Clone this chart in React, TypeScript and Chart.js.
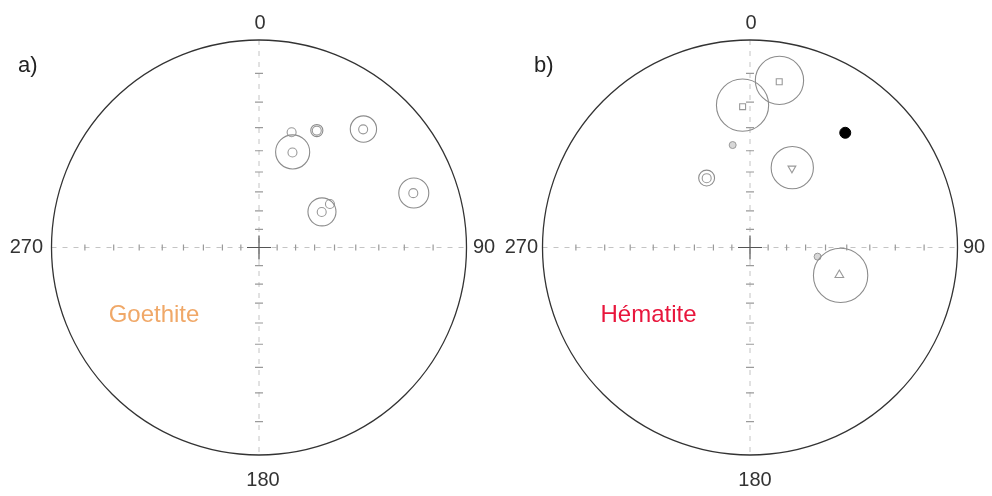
import React, { useEffect, useRef } from 'react';
import { Chart, registerables } from 'chart.js';

Chart.register(...registerables);

// ---- Data (declination, inclination in degrees, alpha95 cone in degrees) ----
const goethiteDec = [19.4, 41.4, 70.6, 60.5, 26.3, 15.8, 58.5];
const goethiteInc = [38.2, 15.6, 13.5, 51.7, 25.7, 30.0, 46.3];
const goethiteA95 = [7.6, 4.6, 5.1, 6.9, 2.4, 0, 0];
const goethiteSym = ['circle', 'circle', 'circle', 'circle', 'circle', 'circle', 'circle'];

const hematiteDec = [10.0, 357.0, 39.7, 350.4, 328.0, 27.9, 107.1, 97.7];
const hematiteInc = [11.9, 21.6, 18.6, 36.8, 47.0, 43.3, 41.5, 53.6];
const hematiteA95 = [8.0, 9.8, 0, 0, 3.8, 9.8, 12.4, 0];
const hematiteSym = ['rect', 'rect', 'filled', 'small', 'circle', 'triangleDown', 'triangle', 'small'];

// colatitude tick marks along the axes (degrees from centre)
const axisTicks = [10, 20, 30, 40, 50, 60, 70, 80];
const compassLabels = ['0', '90', '180', '270'];
const panelLetters = ['a)', 'b)'];
const mineralNames = ['Goethite', 'Hématite'];

const D2R = Math.PI / 180;
const stereo = (colat: number) => Math.tan((colat / 2) * D2R);

function project(dec: number, inc: number) {
  const rho = stereo(90 - Math.abs(inc));
  return { x: rho * Math.sin(dec * D2R), y: rho * Math.cos(dec * D2R) };
}

function coneOf(dec: number, inc: number, a95: number) {
  const th = 90 - Math.abs(inc);
  const r1 = stereo(th - a95);
  const r2 = stereo(th + a95);
  const rc = (r1 + r2) / 2;
  return { x: rc * Math.sin(dec * D2R), y: rc * Math.cos(dec * D2R), rr: (r2 - r1) / 2 };
}

const pxPerUnit = (chart: any) => {
  const s = chart.scales.x;
  return s.getPixelForValue(1) - s.getPixelForValue(0);
};

const stereoPlugin = {
  id: 'stereonet',
  beforeDatasetsDraw(chart: any, _args: any, opts: any) {
    const { ctx } = chart;
    const sx = chart.scales.x;
    const sy = chart.scales.y;
    const cx = sx.getPixelForValue(0);
    const cy = sy.getPixelForValue(0);
    const R = pxPerUnit(chart);
    ctx.save();
    // dashed axes
    ctx.strokeStyle = '#c4c4c4';
    ctx.lineWidth = 1;
    ctx.setLineDash([5, 6]);
    ctx.beginPath();
    ctx.moveTo(cx - R, cy);
    ctx.lineTo(cx + R, cy);
    ctx.moveTo(cx, cy - R);
    ctx.lineTo(cx, cy + R);
    ctx.stroke();
    ctx.setLineDash([]);
    // ticks
    ctx.strokeStyle = '#9a9a9a';
    ctx.lineWidth = 1.2;
    ctx.beginPath();
    axisTicks.forEach((t) => {
      const d = stereo(t);
      [-1, 1].forEach((sgn) => {
        const px = sx.getPixelForValue(sgn * d);
        ctx.moveTo(px, cy - 3);
        ctx.lineTo(px, cy + 3);
        const py = sy.getPixelForValue(sgn * d);
        ctx.moveTo(cx - 4, py);
        ctx.lineTo(cx + 4, py);
      });
    });
    ctx.stroke();
    // centre cross
    ctx.strokeStyle = '#555';
    ctx.lineWidth = 1.2;
    ctx.beginPath();
    ctx.moveTo(cx - 12, cy);
    ctx.lineTo(cx + 12, cy);
    ctx.moveTo(cx, cy - 12);
    ctx.lineTo(cx, cy + 12);
    ctx.stroke();
    // primitive circle
    ctx.strokeStyle = '#333';
    ctx.lineWidth = 1.3;
    ctx.beginPath();
    ctx.arc(cx, cy, R, 0, Math.PI * 2);
    ctx.stroke();
    ctx.restore();
  },
  afterDatasetsDraw(chart: any, _args: any, opts: any) {
    const { ctx } = chart;
    const sx = chart.scales.x;
    const sy = chart.scales.y;
    const cx = sx.getPixelForValue(0);
    const cy = sy.getPixelForValue(0);
    const R = pxPerUnit(chart);
    ctx.save();
    ctx.fillStyle = '#333';
    ctx.font = '20px "Liberation Sans", Arial, sans-serif';
    ctx.textBaseline = 'middle';
    ctx.textAlign = 'center';
    ctx.fillText(compassLabels[0], cx + 1, cy - R - 17);
    ctx.fillText(compassLabels[2], cx + opts.bottomDx, cy + R + 25);
    ctx.textAlign = 'left';
    ctx.fillText(compassLabels[1], cx + R + opts.rightGap, cy);
    ctx.textAlign = 'right';
    ctx.fillText(compassLabels[3], cx - R - opts.leftGap, cy);
    ctx.textAlign = 'left';
    ctx.font = '22px "Liberation Sans", Arial, sans-serif';
    ctx.fillStyle = '#222';
    ctx.fillText(opts.letter, opts.letterX, 66);
    ctx.textAlign = 'center';
    ctx.font = '24px "Liberation Sans", Arial, sans-serif';
    ctx.fillStyle = opts.nameColor;
    ctx.fillText(opts.name, opts.nameX, 315);
    ctx.restore();
  },
};

function buildDatasets(dec: number[], inc: number[], a95: number[], sym: string[], coneColor: string) {
  const cones: any[] = [];
  dec.forEach((d, i) => {
    if (a95[i] > 0) cones.push(coneOf(d, inc[i], a95[i]));
  });
  const pick = (kind: string) =>
    dec.map((d, i) => (sym[i] === kind ? project(d, inc[i]) : null)).filter(Boolean);
  const base = { type: 'scatter', clip: false, pointHoverRadius: undefined };
  return [
    {
      ...base,
      label: 'cones',
      data: cones,
      pointStyle: 'circle',
      backgroundColor: 'rgba(0,0,0,0)',
      borderColor: coneColor,
      borderWidth: 1.1,
      pointRadius: (c: any) => (c.raw ? c.raw.rr * pxPerUnit(c.chart) : 0),
    },
    { ...base, label: 'circle', data: pick('circle'), pointStyle: 'circle', pointRadius: 4.5, backgroundColor: 'rgba(0,0,0,0)', borderColor: '#999', borderWidth: 1.1 },
    { ...base, label: 'small', data: pick('small'), pointStyle: 'circle', pointRadius: 3.5, backgroundColor: '#d8d8d8', borderColor: '#999', borderWidth: 1 },
    { ...base, label: 'rect', data: pick('rect'), pointStyle: 'rect', pointRadius: 4.2, backgroundColor: 'rgba(0,0,0,0)', borderColor: '#999', borderWidth: 1.1 },
    { ...base, label: 'triangle', data: pick('triangle'), pointStyle: 'triangle', pointRadius: 5, backgroundColor: 'rgba(0,0,0,0)', borderColor: '#999', borderWidth: 1.1 },
    { ...base, label: 'triangleDown', data: pick('triangleDown'), pointStyle: 'triangle', rotation: 180, pointRadius: 4.5, backgroundColor: 'rgba(0,0,0,0)', borderColor: '#999', borderWidth: 1.1 },
    { ...base, label: 'filled', data: pick('filled'), pointStyle: 'circle', pointRadius: 5.5, backgroundColor: '#000', borderColor: '#000', borderWidth: 1 },
  ];
}

function makeConfig(datasets: any[], padding: any, net: any) {
  return {
    type: 'scatter',
    data: { datasets },
    options: {
      responsive: false,
      animation: false,
      devicePixelRatio: 1,
      events: [],
      layout: { padding },
      scales: {
        x: { type: 'linear', min: -1, max: 1, display: false },
        y: { type: 'linear', min: -1, max: 1, display: false },
      },
      plugins: {
        legend: { display: false },
        tooltip: { enabled: false },
        stereonet: net,
      },
    },
    plugins: [stereoPlugin],
  } as any;
}

export default function App() {
  const leftRef = useRef<HTMLCanvasElement>(null);
  const rightRef = useRef<HTMLCanvasElement>(null);

  useEffect(() => {
    const left = new Chart(
      leftRef.current as HTMLCanvasElement,
      makeConfig(
        buildDatasets(goethiteDec, goethiteInc, goethiteA95, goethiteSym, '#8c8c8c'),
        { left: 51.5, right: 29.5, top: 40, bottom: 41 },
        { letter: panelLetters[0], letterX: 18, name: mineralNames[0], nameX: 154, nameColor: '#f0a868', leftGap: 8.5, rightGap: 6.5, bottomDx: 4 }
      )
    );
    const right = new Chart(
      rightRef.current as HTMLCanvasElement,
      makeConfig(
        buildDatasets(hematiteDec, hematiteInc, hematiteA95, hematiteSym, '#8c8c8c'),
        { left: 46.5, right: 34.5, top: 40, bottom: 41 },
        { letter: panelLetters[1], letterX: 38, name: mineralNames[1], nameX: 152.5, nameColor: '#e8163c', leftGap: 4.5, rightGap: 5.5, bottomDx: 5 }
      )
    );
    return () => {
      left.destroy();
      right.destroy();
    };
  }, []);

  return (
    <div style={{ position: 'absolute', left: 0, top: 0, width: 992, height: 496, background: '#fff' }}>
      <canvas ref={leftRef} width={496} height={496} style={{ position: 'absolute', left: 0, top: 0, width: 496, height: 496 }} />
      <canvas ref={rightRef} width={496} height={496} style={{ position: 'absolute', left: 496, top: 0, width: 496, height: 496 }} />
    </div>
  );
}
